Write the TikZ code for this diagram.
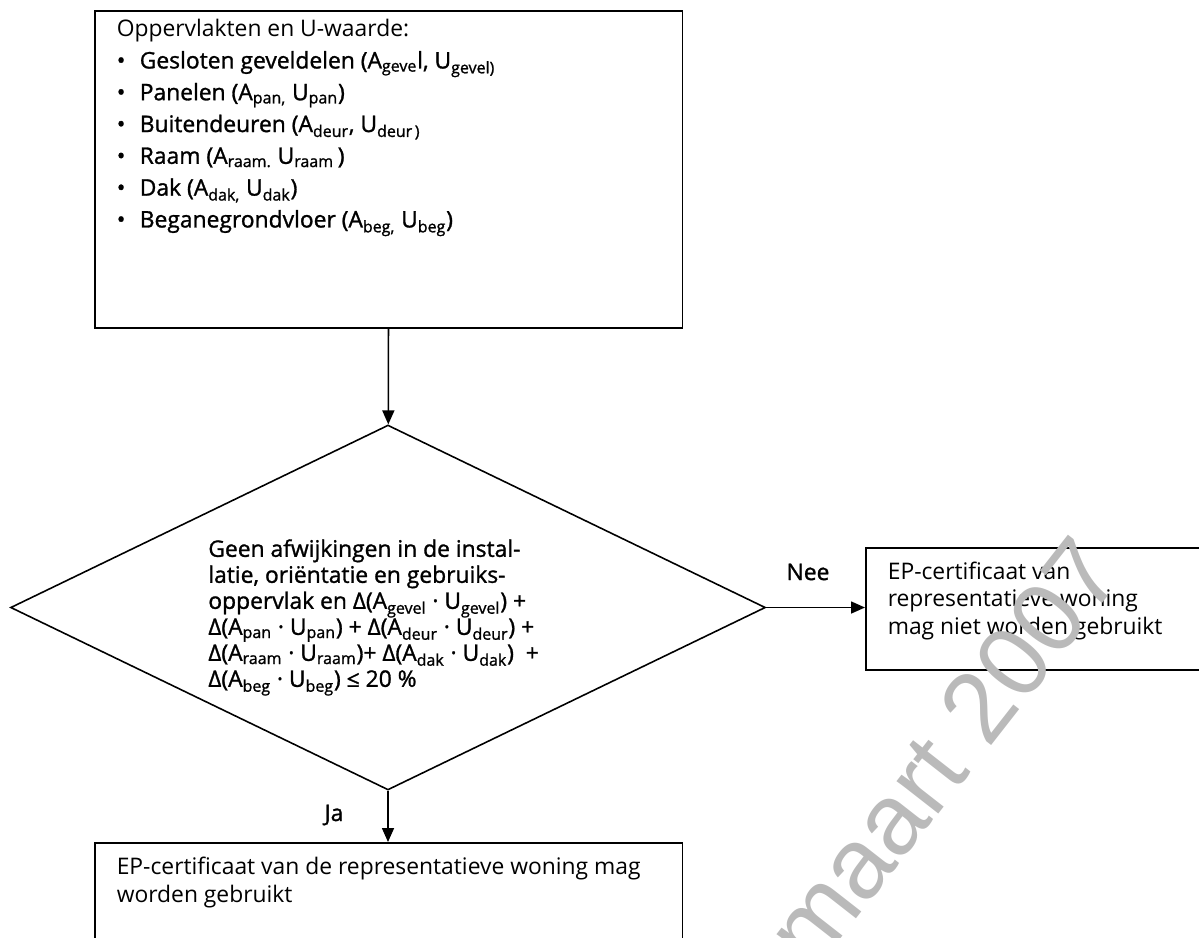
\documentclass[tikz,border=0pt]{standalone}
\usepackage{fontspec}
\setmainfont{Open Sans}
\newfontfamily\semib[FakeBold=1.2]{Open Sans}
\newfontfamily\markfont{Liberation Sans}
\usetikzlibrary{positioning, arrows.meta, shapes.geometric}

\begin{document}
\begin{tikzpicture}[
  x=0.02cm, y=-0.02cm,
  >={Triangle[length=0.28cm, width=0.24cm]},
  box/.style={draw, line width=0.9pt, anchor=north west, inner xsep=0.44cm,
    inner ysep=0.28cm, align=left},
  decision/.style={draw, diamond, line width=0.9pt, minimum width=15.1cm,
    minimum height=7.3cm, inner sep=0pt},
  cond/.style={anchor=north west, align=left, inner sep=0pt,
    font=\semib\fontsize{13}{14.8}\selectfont},
  arr/.style={->, line width=0.9pt},
  lbl/.style={font=\semib\fontsize{13}{14}\selectfont},
  wmark/.style={font=\markfont\fontsize{57}{57}\selectfont, text=black!27,
    rotate=52},
]
\useasboundingbox (0,0) rectangle (1199,937);

% === surfaces and U-values ===
\node[box, inner ysep=0.17cm] (surf) at (94,10)
  {\parbox[t][6cm][t]{10.88cm}{\fontsize{13}{18.1}\selectfont
  Oppervlakten en U-waarde:\\\semib
  \makebox[0.46cm][l]{\textbullet}Gesloten geveldelen (A\textsubscript{geve}l, U\textsubscript{gevel)}\\
  \makebox[0.46cm][l]{\textbullet}Panelen (A\textsubscript{pan,} U\textsubscript{pan})\\
  \makebox[0.46cm][l]{\textbullet}Buitendeuren (A\textsubscript{deur}, U\textsubscript{deur\,)}\\
  \makebox[0.46cm][l]{\textbullet}Raam (A\textsubscript{raam.} U\textsubscript{raam}\,)\\
  \makebox[0.46cm][l]{\textbullet}Dak (A\textsubscript{dak,} U\textsubscript{dak})\\
  \makebox[0.46cm][l]{\textbullet}Beganegrondvloer (A\textsubscript{beg,} U\textsubscript{beg})}};

% === decision ===
\node[decision] (check) at (388,607.5) {};
\node[cond] (checktext) at (208,539) {%
  Geen afwijkingen in de instal-\\
  latie, oriëntatie en gebruiks-\\
  oppervlak en Δ(A\textsubscript{gevel} · U\textsubscript{gevel}) +\\
  Δ(A\textsubscript{pan} · U\textsubscript{pan}) + Δ(A\textsubscript{deur} · U\textsubscript{deur}) +\\
  Δ(A\textsubscript{raam} · U\textsubscript{raam})+ Δ(A\textsubscript{dak} · U\textsubscript{dak})\ \ +\\
  Δ(A\textsubscript{beg} · U\textsubscript{beg}) ≤ 20 \%};

% === outcomes ===
\node[box] (refused) at (865,547)
  {\parbox[t][1.88cm][t]{6.12cm}{\fontsize{13}{15.6}\selectfont
  EP-certificaat van\\
  representatieve woning\\
  mag niet worden gebruikt}};
\node[box] (allowed) at (94,842)
  {\parbox[t][2.04cm][t]{10.88cm}{\fontsize{13}{15.9}\selectfont
  EP-certificaat van de representatieve woning mag\\
  worden gebruikt}};

\draw[arr] (surf) -- (check);
\draw[arr] (check.east) -- (check.east -| refused.west);
\draw[arr] (check.south) -- (check.south |- allowed.north);

\node[lbl] (no) at (808,572) {Nee};
\node[lbl] (yes) at (334,815) {Ja};

% watermark
\node[wmark] (stamp) at (943,752) {maart 2007};

\end{tikzpicture}
\end{document}
